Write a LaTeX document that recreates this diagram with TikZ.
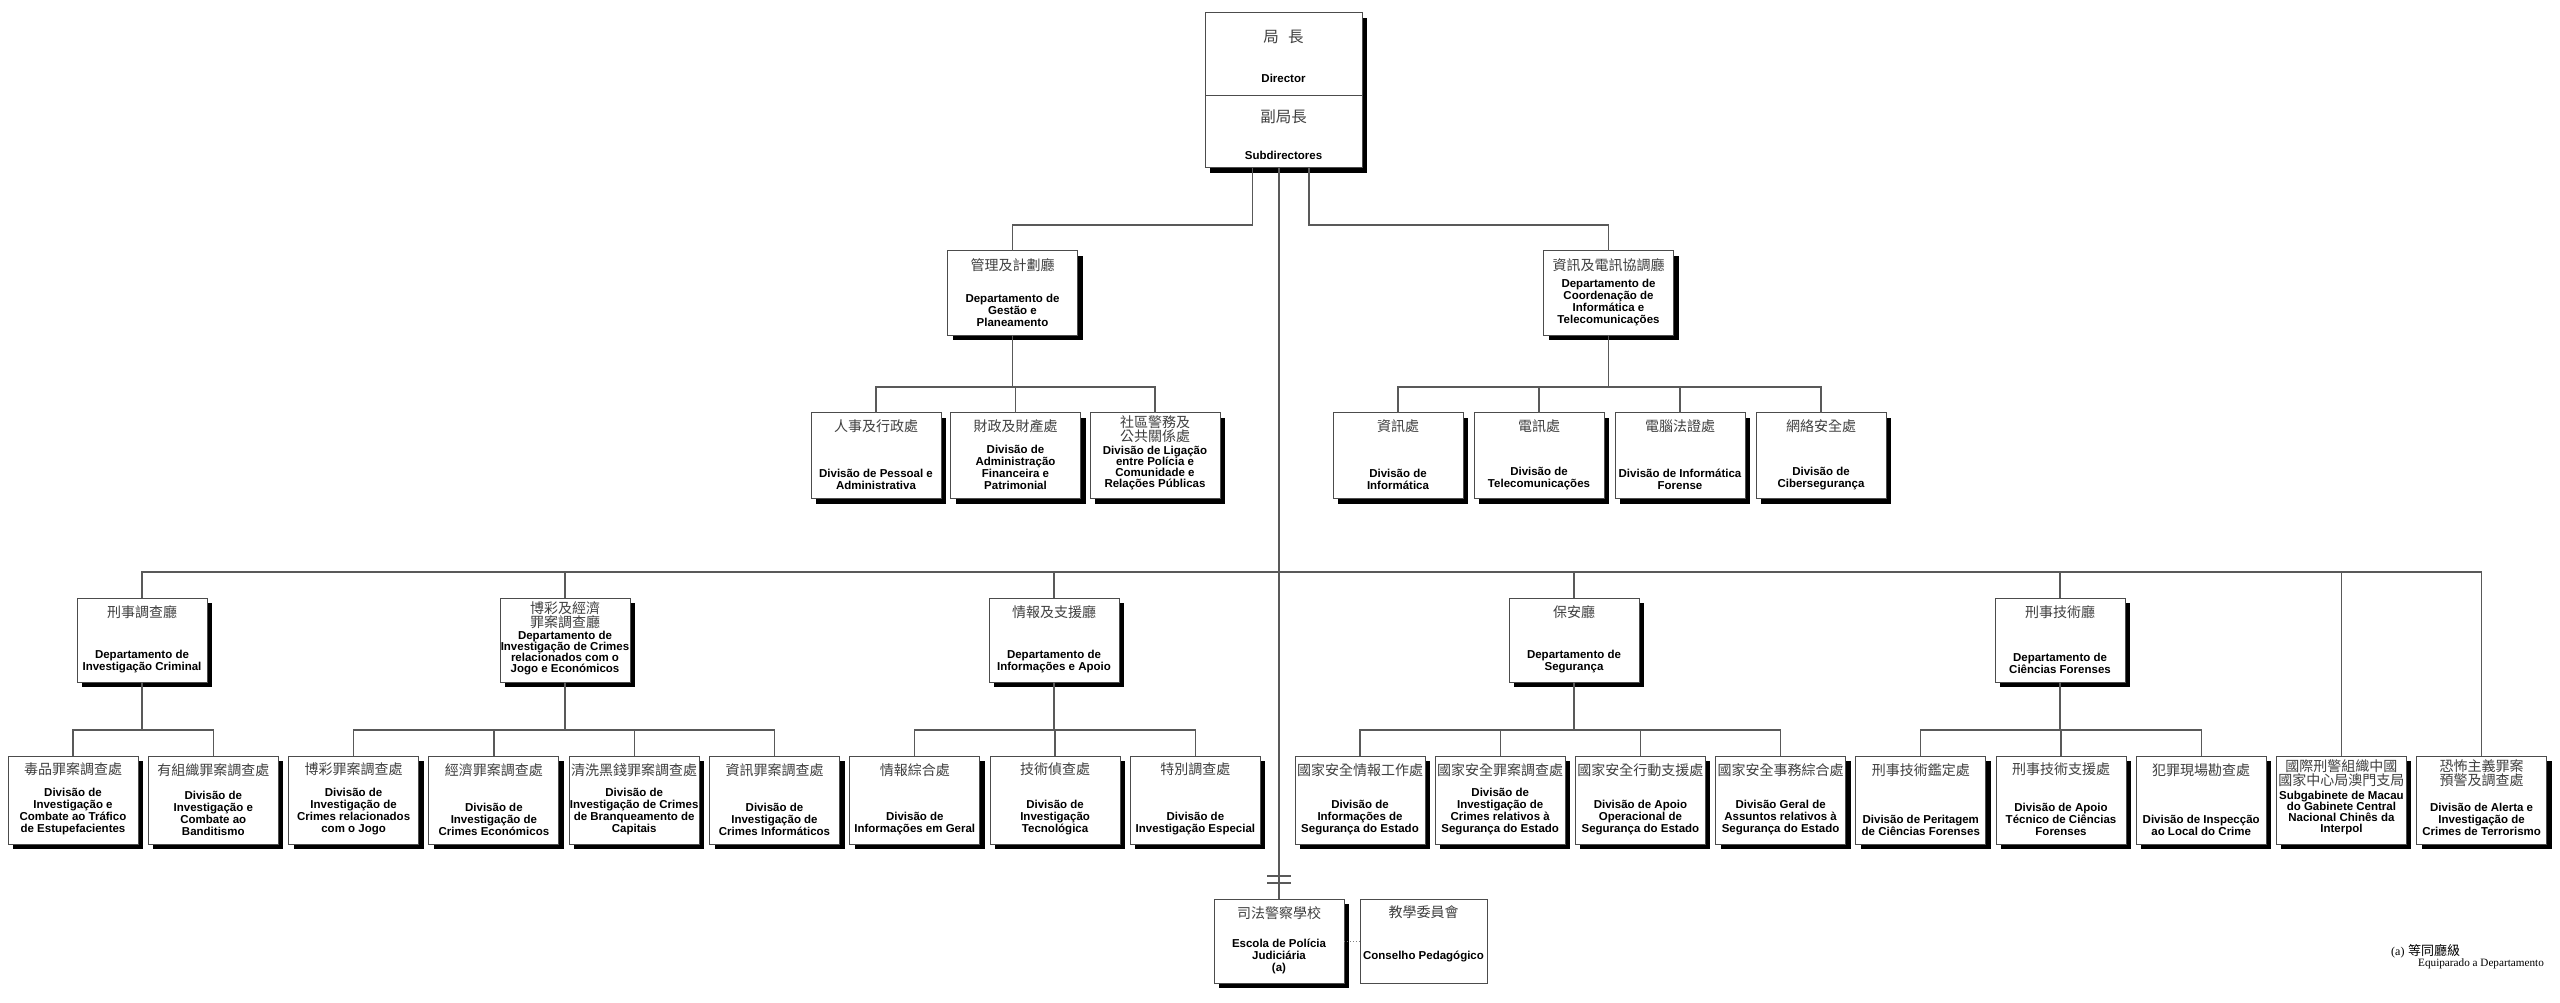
\documentclass[tikz,border=0pt]{standalone}
\usepackage{fontspec}
\newfontfamily\ptfont{Liberation Sans}
\newfontfamily\zhfont{Noto Sans CJK TC}
\newfontfamily\notefont{Liberation Serif}
\usetikzlibrary{positioning,shadows}

\begin{document}
\begin{tikzpicture}[
                x=1pt, y=-1pt,
                unit/.style = {
                    draw=black!70,
                    line width=1pt,
                    fill=white,
                    minimum width=130pt,
                    minimum height=#1,
                    inner sep=0pt,
                    outer sep=0pt,
                    drop shadow={shadow xshift=5pt, shadow yshift=-5pt, fill=black, opacity=1}
                },
                unit/.default = 86pt,
                zh/.style = {
                    font=\zhfont\fontsize{14pt}{14pt}\selectfont,
                    text=black!75,
                    align=center,
                    anchor=north,
                    yshift=-7pt,
                    inner sep=0pt
                },
                zhtwo/.style = {zh, yshift=4pt},
                pt/.style = {
                    font=\ptfont\bfseries\fontsize{11.5pt}{12pt}\selectfont,
                    align=center,
                    anchor=south,
                    yshift=8.5pt,
                    inner sep=0pt
                },
                pttight/.style = {pt, font=\ptfont\bfseries\fontsize{11.5pt}{11pt}\selectfont},
                link/.style = {draw=black!65, line width=1.3pt}
            ]
            \useasboundingbox (0,0) rectangle (2560,1003);
            %
            % director
            \node[unit, minimum width=157pt, minimum height=155pt] (dir) at (1283.5,90.5) {};
            \draw[black!70, line width=1pt] (dir.west |- 0,96) -- (dir.east |- 0,96);
            \node[font=\zhfont\fontsize{15.5pt}{17pt}\selectfont, text=black!75] (dirzh) at (1283.5,37) {局\hspace{0.6em}長};
            \node[font=\ptfont\bfseries\fontsize{11.5pt}{13pt}\selectfont] (dirpt) at (1283.5,78) {Director};
            \node[font=\zhfont\fontsize{15.5pt}{17pt}\selectfont, text=black!75] (subzh) at (1283.5,117) {副局長};
            \node[font=\ptfont\bfseries\fontsize{11.5pt}{13pt}\selectfont] (subpt) at (1283.5,155) {Subdirectores};
            %
            % departments under the director
            \node[unit=84pt, label={[zh]north:管理及計劃廳}, label={[pt]south:{Departamento de\\Gestão e\\Planeamento}}] (gest) at (1012.5,293) {};
            \node[unit=84pt, label={[zh]north:資訊及電訊協調廳}, label={[pt]south:{Departamento de\\Coordenação de\\Informática e\\Telecomunicações}}] (dinf) at (1608.5,293) {};
            %
            \node[unit, label={[zh]north:人事及行政處}, label={[pt]south:{Divisão de Pessoal e\\Administrativa}}] (pess) at (876,455.5) {};
            \node[unit, label={[zh]north:財政及財產處}, label={[pt]south:{Divisão de\\Administração\\Financeira e\\Patrimonial}}] (fina) [right=9.5pt of pess] {};
            \node[unit, label={[zhtwo]north:{社區警務及\\公共關係處}}, label={[pttight]south:{Divisão de Ligação\\entre Polícia e\\Comunidade e\\Relações Públicas}}] (comu) [right=9.5pt of fina] {};
            %
            \node[unit, label={[zh]north:資訊處}, label={[pt]south:{Divisão de\\Informática}}] (dinfo) at (1398,455.5) {};
            \node[unit, label={[zh]north:電訊處}, label={[pt]south:{Divisão de\\Telecomunicações}}] (dtele) [right=11pt of dinfo] {};
            \node[unit, label={[zh]north:電腦法證處}, label={[pt]south:{Divisão de Informática\\Forense}}] (dfore) [right=11pt of dtele] {};
            \node[unit, label={[zh]north:網絡安全處}, label={[pt]south:{Divisão de\\Cibersegurança}}] (dcibe) [right=11pt of dfore] {};
            %
            % departments on the main bus
            \node[unit=84pt, label={[zh]north:刑事調查廳}, label={[pt]south:{Departamento de\\Investigação Criminal}}] (crim) at (142,640) {};
            \node[unit=84pt, label={[zhtwo]north:{博彩及經濟\\罪案調查廳}}, label={[pttight, yshift=-1.5pt]south:{Departamento de\\Investigação de Crimes\\relacionados com o\\Jogo e Económicos}}] (jogo) at (565,640) {};
            \node[unit=84pt, label={[zh]north:情報及支援廳}, label={[pt]south:{Departamento de\\Informações e Apoio}}] (intel) at (1054,640) {};
            \node[unit=84pt, label={[zh]north:保安廳}, label={[pt]south:{Departamento de\\Segurança}}] (segu) at (1574,640) {};
            \node[unit=84pt, label={[zh]north:刑事技術廳}, label={[pt]south:{Departamento de\\Ciências Forenses}}] (fore) at (2060,640) {};
            %
            % divisions
            \node[unit=88pt, label={[zh]north:毒品罪案調查處}, label={[pt]south:{Divisão de\\Investigação e\\Combate ao Tráfico\\de Estupefacientes}}] (drug) at (73,800) {};
            \node[unit=88pt, label={[zh]north:有組織罪案調查處}, label={[pt]south:{Divisão de\\Investigação e\\Combate ao\\Banditismo}}] (gang) [right=10.3pt of drug] {};
            \node[unit=88pt, label={[zh]north:博彩罪案調查處}, label={[pt]south:{Divisão de\\Investigação de\\Crimes relacionados\\com o Jogo}}] (game) [right=10.3pt of gang] {};
            \node[unit=88pt, label={[zh]north:經濟罪案調查處}, label={[pt]south:{Divisão de\\Investigação de\\Crimes Económicos}}] (econ) [right=10.3pt of game] {};
            \node[unit=88pt, label={[zh]north:清洗黑錢罪案調查處}, label={[pt]south:{Divisão de\\Investigação de Crimes\\de Branqueamento de\\Capitais}}] (laun) [right=10.3pt of econ] {};
            \node[unit=88pt, label={[zh]north:資訊罪案調查處}, label={[pt]south:{Divisão de\\Investigação de\\Crimes Informáticos}}] (cybc) [right=10.3pt of laun] {};
            \node[unit=88pt, label={[zh]north:情報綜合處}, label={[pt]south:{Divisão de\\Informações em Geral}}] (igen) [right=10.3pt of cybc] {};
            \node[unit=88pt, label={[zh]north:技術偵查處}, label={[pt]south:{Divisão de\\Investigação\\Tecnológica}}] (itec) [right=10.3pt of igen] {};
            \node[unit=88pt, label={[zh]north:特別調查處}, label={[pt]south:{Divisão de\\Investigação Especial}}] (iesp) [right=10.3pt of itec] {};
            %
            \node[unit=88pt, label={[zh]north:國家安全情報工作處}, label={[pt]south:{Divisão de\\Informações de\\Segurança do Estado}}] (sinf) at (1360,800) {};
            \node[unit=88pt, label={[zh]north:國家安全罪案調查處}, label={[pt]south:{Divisão de\\Investigação de\\Crimes relativos à\\Segurança do Estado}}] (scri) [right=10.2pt of sinf] {};
            \node[unit=88pt, label={[zh]north:國家安全行動支援處}, label={[pt]south:{Divisão de Apoio\\Operacional de\\Segurança do Estado}}] (sapo) [right=10.2pt of scri] {};
            \node[unit=88pt, label={[zh]north:國家安全事務綜合處}, label={[pt]south:{Divisão Geral de\\Assuntos relativos à\\Segurança do Estado}}] (sger) [right=10.2pt of sapo] {};
            \node[unit=88pt, label={[zh]north:刑事技術鑑定處}, label={[pt]south:{Divisão de Peritagem\\de Ciências Forenses}}] (peri) [right=10.2pt of sger] {};
            \node[unit=88pt, label={[zh]north:刑事技術支援處}, label={[pt]south:{Divisão de Apoio\\Técnico de Ciências\\Forenses}}] (atec) [right=10.2pt of peri] {};
            \node[unit=88pt, label={[zh]north:犯罪現場勘查處}, label={[pt]south:{Divisão de Inspecção\\ao Local do Crime}}] (insp) [right=10.2pt of atec] {};
            \node[unit=88pt, label={[zhtwo]north:{國際刑警組織中國\\國家中心局澳門支局}}, label={[pttight]south:{Subgabinete de Macau\\do Gabinete Central\\Nacional Chinês da\\Interpol}}] (ipol) [right=10.2pt of insp] {};
            \node[unit=88pt, label={[zhtwo]north:{恐怖主義罪案\\預警及調查處}}, label={[pt]south:{Divisão de Alerta e\\Investigação de\\Crimes de Terrorismo}}] (terr) [right=10.2pt of ipol] {};
            %
            % school
            \node[unit=84pt, label={[zh]north:司法警察學校}, label={[pt]south:{Escola de Polícia\\Judiciária\\(a)}}] (esco) at (1279,941) {};
            \node[draw=black!70, line width=1pt, fill=white, minimum width=127pt, minimum height=84pt, inner sep=0pt,
                  label={[zh]north:教學委員會}, label={[pt, yshift=13pt]south:Conselho Pedagógico}] (cons) at (1423.5,941) {};
            %
            % note
            \node[anchor=north west, inner sep=0pt, font=\notefont\fontsize{12pt}{14pt}\selectfont] (note) at (2391,944)
                {(a)\hspace{0.3em}{\zhfont\fontsize{13pt}{14pt}\selectfont 等同廳級}};
            \node[anchor=north west, inner sep=0pt, font=\notefont\fontsize{11.2pt}{12pt}\selectfont] (notept) at (2418,959)
                {Equiparado a Departamento};
            %
            % connectors
            \coordinate (hub) at (1279,572);
            \draw[link] ([xshift=-31pt]dir.south) -- ++(0,57) -| (gest.north);
            \draw[link] ([xshift=25.5pt]dir.south) -- ++(0,57) -| (dinf.north);
            \draw[link] (dir.south -| hub) -- ([yshift=16pt]esco.north);
            \draw[link] ([xshift=-12pt, yshift=23pt]esco.north) -- ([xshift=12pt, yshift=23pt]esco.north);
            \draw[link] ([xshift=-12pt, yshift=16pt]esco.north) -- ([xshift=12pt, yshift=16pt]esco.north);
            \draw[link] ([yshift=16pt]esco.north) -- (esco.north);
            \draw[black!50, line width=1pt, dotted] (esco.east) -- (cons.west);
            %
            \foreach \d in {pess,fina,comu}
                \draw[link] (gest.south) -- ++(0,52) -| (\d.north);
            \foreach \d in {dinfo,dtele,dfore,dcibe}
                \draw[link] (dinf.south) -- ++(0,52) -| (\d.north);
            %
            \foreach \d in {crim,jogo,intel,segu,fore,ipol,terr}
                \draw[link] (hub) -| (\d.north);
            %
            \foreach \d in {drug,gang}
                \draw[link] (crim.south) -- ++(0,48) -| (\d.north);
            \foreach \d in {game,econ,laun,cybc}
                \draw[link] (jogo.south) -- ++(0,48) -| (\d.north);
            \foreach \d in {igen,itec,iesp}
                \draw[link] (intel.south) -- ++(0,48) -| (\d.north);
            \foreach \d in {sinf,scri,sapo,sger}
                \draw[link] (segu.south) -- ++(0,48) -| (\d.north);
            \foreach \d in {peri,atec,insp}
                \draw[link] (fore.south) -- ++(0,48) -| (\d.north);
            %
        \end{tikzpicture}
\end{document}
